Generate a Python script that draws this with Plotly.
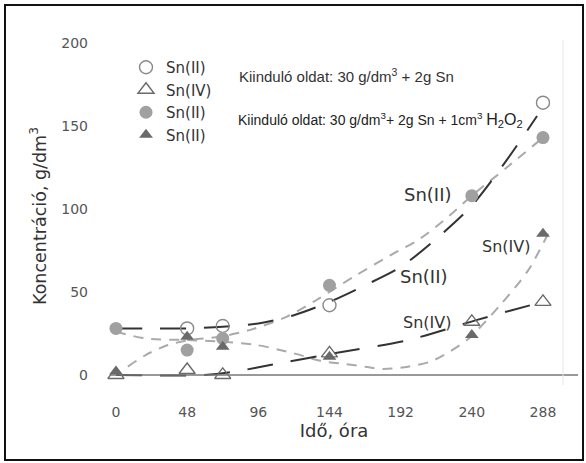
import plotly.graph_objects as go

# ---- data ----
times = [0, 48, 72, 144, 240, 288]
open_sn2 = [None, 28, 29.5, 42, None, 164]      # Sn(II), 30 g/dm3 + 2g Sn
open_sn4 = [0, 3, 0, 13, 32, 44]                 # Sn(IV), 30 g/dm3 + 2g Sn
filled_sn2 = [28, 15, 22, 54, 108, 143]          # Sn(II), + H2O2
filled_sn4 = [2, 23, 17, 11, 24, 85]             # Sn(IV), + H2O2 (labelled Sn(II) in legend)

# trend curves
curve_open_sn2_t = [0, 24, 48, 72, 96, 120, 144, 168, 192, 216, 240, 264, 284]
curve_open_sn2_c = [28, 28, 28, 29, 31, 36, 44, 54, 65, 82, 102, 130, 156]
curve_open_sn4_t = [0, 60, 80, 104, 147, 197, 243, 267, 288]
curve_open_sn4_c = [0, 0, 2, 6, 13, 21, 33, 39, 44]
curve_fill_sn2_t = [8, 20, 35, 50, 70, 90, 115, 135, 160, 185, 205, 225, 240, 265, 288]
curve_fill_sn2_c = [5, 12, 18, 21, 23, 27, 35, 45, 59, 72, 82, 96, 108, 126, 143]
curve_fill_sn4_t = [0, 20, 48, 72, 95, 120, 138, 155, 168, 180, 197, 212, 225, 238, 260, 278, 292]
curve_fill_sn4_c = [26, 22, 21, 20, 18, 13, 8.5, 6.5, 5, 3.6, 5, 8, 14, 22, 43, 63, 86]

x_ticks = [0, 48, 96, 144, 192, 240, 288]
y_ticks = [0, 50, 100, 150, 200]

legend_names = ["Sn(II)", "Sn(IV)", "Sn(II)", "Sn(II)"]

FONT = "DejaVu Sans, sans-serif"
FONT2 = "Liberation Sans, Arial, sans-serif"

fig = go.Figure()

# curves
gray_line = dict(color="#aaaaaa", width=2, dash="10px,8px", shape="spline", smoothing=0.8)
dark_line = dict(color="#333333", width=2, dash="26px,18px", shape="spline", smoothing=0.8)
fig.add_trace(go.Scatter(x=curve_fill_sn2_t, y=curve_fill_sn2_c, mode="lines", line=gray_line,
                         showlegend=False, hoverinfo="skip"))
fig.add_trace(go.Scatter(x=curve_fill_sn4_t, y=curve_fill_sn4_c, mode="lines", line=gray_line,
                         showlegend=False, hoverinfo="skip"))
fig.add_trace(go.Scatter(x=curve_open_sn2_t, y=curve_open_sn2_c, mode="lines", line=dark_line,
                         showlegend=False, hoverinfo="skip"))
fig.add_trace(go.Scatter(x=curve_open_sn4_t, y=curve_open_sn4_c, mode="lines", line=dark_line,
                         showlegend=False, hoverinfo="skip"))

# markers
fig.add_trace(go.Scatter(x=times, y=open_sn2, mode="markers", name=legend_names[0],
                         marker=dict(symbol="circle-open", size=13, color="#8a8a8a", line=dict(width=1.4))))
fig.add_trace(go.Scatter(x=times, y=open_sn4, mode="markers", name=legend_names[1],
                         marker=dict(symbol="triangle-up-open", size=14, color="#6a6a6a", line=dict(width=1.4))))
fig.add_trace(go.Scatter(x=times, y=filled_sn2, mode="markers", name=legend_names[2],
                         marker=dict(symbol="circle", size=13, color="#a0a0a0")))
fig.add_trace(go.Scatter(x=times, y=filled_sn4, mode="markers", name=legend_names[3],
                         marker=dict(symbol="triangle-up", size=12, color="#6a6a6a")))

PW, PH = 458, 372  # plot area size in px (left 105, top 30)

def px(xp):
    return (xp - 105) / PW

def py(yp):
    return (402 - yp) / PH

shapes = [
    # outer frame
    dict(type="rect", xref="paper", yref="paper", x0=px(5), x1=px(583), y0=py(460), y1=py(5),
         line=dict(color="#111", width=2)),
    # x axis line at y=0
    dict(type="line", xref="paper", yref="y", x0=px(110), x1=px(578), y0=0, y1=0,
         line=dict(color="#777", width=1.5)),
    # faint right frame line
    dict(type="line", xref="paper", yref="paper", x0=1, x1=1, y0=py(385), y1=py(40),
         line=dict(color="#e6e6e6", width=1)),
]

annotations = [
    dict(text="Kiinduló oldat: 30 g/dm<sup>3</sup> + 2g Sn", xref="paper", yref="paper",
         x=px(237), y=py(75), xanchor="left", yanchor="middle", showarrow=False,
         font=dict(family=FONT2, size=15, color="#333")),
    dict(text="Kiinduló oldat: 30 g/dm<sup>3</sup>+ 2g Sn + 1cm<sup>3</sup> <span style='font-size:16px'>H<sub>2</sub>O<sub>2</sub></span>",
         xref="paper", yref="paper",
         x=px(236), y=py(120), xanchor="left", yanchor="middle", showarrow=False,
         font=dict(family=FONT2, size=14, color="#222")),
    dict(text="Sn(II)", x=px(428), y=py(194), xref="paper", yref="paper", showarrow=False,
         xanchor="center", yanchor="middle", font=dict(family=FONT, size=18, color="#333")),
    dict(text="Sn(II)", x=px(424), y=py(276), xref="paper", yref="paper", showarrow=False,
         xanchor="center", yanchor="middle", font=dict(family=FONT, size=18, color="#333")),
    dict(text="Sn(IV)", x=px(506), y=py(247), xref="paper", yref="paper", showarrow=False,
         xanchor="center", yanchor="middle", font=dict(family=FONT, size=16, color="#333")),
    dict(text="Sn(IV)", x=px(427), y=py(322), xref="paper", yref="paper", showarrow=False,
         xanchor="center", yanchor="middle", font=dict(family=FONT, size=16, color="#333")),
]

fig.update_layout(
    width=586, height=463,
    margin=dict(l=105, r=23, t=30, b=61),
    paper_bgcolor="white", plot_bgcolor="white",
    font=dict(family=FONT, size=12, color="#333"),
    showlegend=True,
    legend=dict(x=px(126), y=py(51), xanchor="left", yanchor="top",
                bgcolor="rgba(0,0,0,0)", font=dict(family=FONT, size=15, color="#333"),
                tracegroupgap=0, itemwidth=30),
    shapes=shapes,
    annotations=annotations,
    xaxis=dict(range=[-7.4, 301.5], tickvals=x_ticks, showgrid=False, zeroline=False,
               showline=False, ticks="", tickfont=dict(family=FONT, size=14, color="#555"),
               title=dict(text="Idő, óra", font=dict(family=FONT, size=18, color="#333"), standoff=4)),
    yaxis=dict(range=[-16.3, 207.8], tickvals=y_ticks, showgrid=False, zeroline=False,
               showline=False, ticks="", ticklabelstandoff=16,
               tickfont=dict(family=FONT, size=14, color="#555"),
               title=dict(text="Koncentráció, g/dm<sup>3</sup>", font=dict(family=FONT, size=17.5, color="#333"),
                          standoff=10)),
)

fig.write_html("out.html")
